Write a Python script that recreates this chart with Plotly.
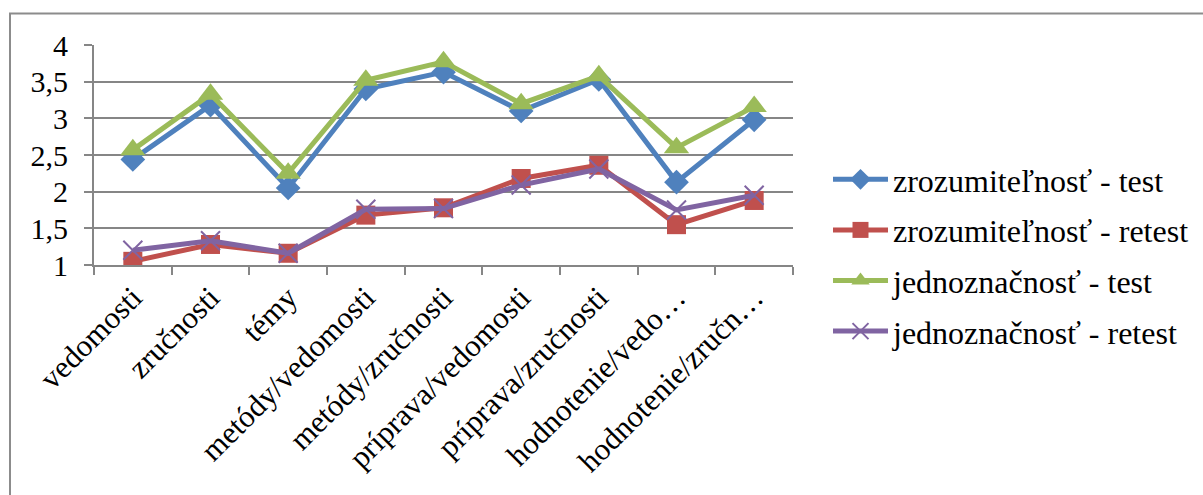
import plotly.graph_objects as go

categories = ["vedomosti", "zručnosti", "témy", "metódy/vedomosti", "metódy/zručnosti",
              "príprava/vedomosti", "príprava/zručnosti", "hodnotenie/vedo…", "hodnotenie/zručn…"]

zroz_test = [2.44, 3.18, 2.05, 3.40, 3.63, 3.10, 3.53, 2.13, 2.98]
zroz_retest = [1.05, 1.28, 1.16, 1.68, 1.78, 2.18, 2.36, 1.55, 1.88]
jedn_test = [2.57, 3.33, 2.25, 3.52, 3.77, 3.20, 3.58, 2.60, 3.16]
jedn_retest = [1.20, 1.33, 1.16, 1.76, 1.77, 2.09, 2.31, 1.75, 1.95]

series_names = ["zrozumiteľnosť - test", "zrozumiteľnosť - retest",
                "jednoznačnosť - test", "jednoznačnosť - retest"]
colors = ["#4F81BD", "#C0504D", "#9BBB59", "#8064A2"]

FONT = "'Liberation Serif', 'Times New Roman', 'DejaVu Serif', serif"

fig = go.Figure()
specs = [
    (zroz_test, "diamond", 19, 0),
    (zroz_retest, "square", 19, 0),
    (jedn_test, "triangle-up", 22, 0),
    (jedn_retest, "x-thin", 19, 2),
]
for i, (vals, sym, size, lw) in enumerate(specs):
    marker = dict(symbol=sym, size=size, color=colors[i])
    if sym == "x-thin":
        marker["line"] = dict(color=colors[i], width=lw)
    fig.add_trace(go.Scatter(
        x=categories, y=vals, mode="lines+markers", name=series_names[i],
        line=dict(color=colors[i], width=5), marker=marker,
        legendgroup=str(i),
    ))

W, H = 1203, 495
L, R, T, B = 94, 793, 45, 265

def px_x(p):
    return (p - L) / (R - L)

def px_y(p):
    return (B - p) / (B - T)

fig.add_shape(type="rect", xref="paper", yref="paper",
              x0=px_x(10), x1=px_x(1215), y0=px_y(510), y1=px_y(13.5),
              line=dict(color="#8C8C8C", width=2), fillcolor="rgba(0,0,0,0)", layer="below")

fig.update_layout(
    width=W, height=H,
    margin=dict(l=L, r=W - R, t=T, b=H - B, pad=0, autoexpand=False),
    paper_bgcolor="white", plot_bgcolor="white",
    separators=", ",
    font=dict(family=FONT, color="black", size=30),
    showlegend=True,
    legend=dict(x=px_x(828), y=px_y(152), xanchor="left", yanchor="top",
                font=dict(family=FONT, size=32, color="black"),
                itemwidth=55, tracegroupgap=6, bgcolor="rgba(0,0,0,0)"),
    xaxis=dict(type="category", tickangle=-45, tickson="boundaries", ticks="outside",
               ticklen=8, tickcolor="#868686", tickwidth=2,
               showline=True, linecolor="#868686", linewidth=2,
               showgrid=False, tickfont=dict(family=FONT, size=31),
               range=[-0.5, len(categories) - 0.5], automargin=False),
    yaxis=dict(range=[1, 4], dtick=0.5, tick0=1, showgrid=True, gridcolor="#868686", gridwidth=1.5,
               ticks="outside", ticklen=8, tickcolor="#868686", tickwidth=2,
               showline=True, linecolor="#868686", linewidth=2, zeroline=False,
               tickfont=dict(family=FONT, size=30), ticklabelstandoff=10, automargin=False),
)

fig.write_html("out.html", config={"displayModeBar": False},
               post_script="document.body.style.margin='0';document.body.style.overflow='hidden';")
